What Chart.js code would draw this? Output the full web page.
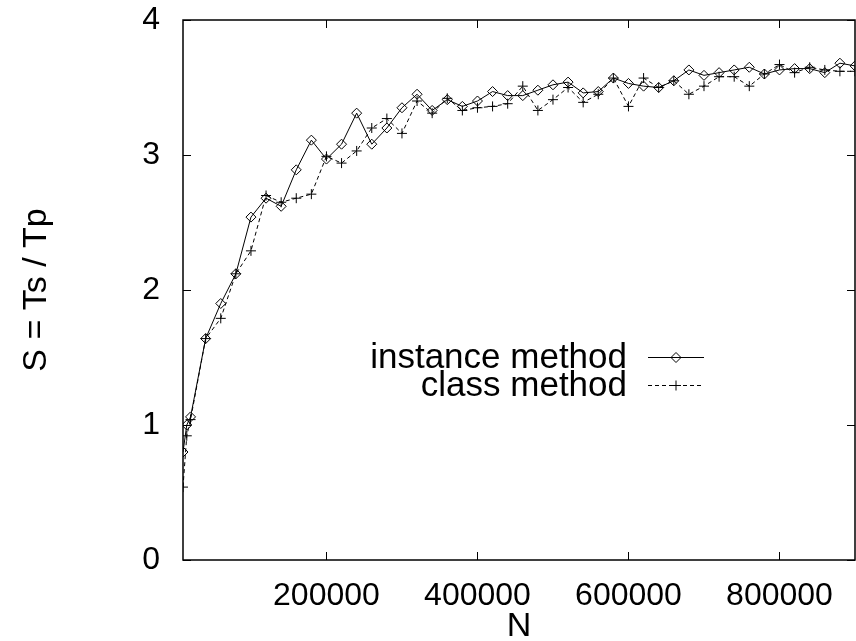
<!DOCTYPE html>
<html>
<head>
<meta charset="utf-8">
<script src="https://cdn.jsdelivr.net/npm/chart.js@4"></script>
<style>
  html, body { margin: 0; padding: 0; background: #fff; }
  #wrap { width: 856px; height: 641px; }
</style>
</head>
<body>
<div id="wrap"><canvas id="speedup-chart" width="856" height="641"></canvas></div>
<script>
  // problem sizes N (x axis)
  const sizes = [
    10000, 15000, 20000, 40000, 60000, 80000, 100000, 120000, 140000, 160000,
    180000, 200000, 220000, 240000, 260000, 280000, 300000, 320000, 340000, 360000,
    380000, 400000, 420000, 440000, 460000, 480000, 500000, 520000, 540000, 560000,
    580000, 600000, 620000, 640000, 660000, 680000, 700000, 720000, 740000, 760000,
    780000, 800000, 820000, 840000, 860000, 880000, 900000
  ];

  // speedup S = Ts / Tp
  const instanceMethod = [
    0.80, 1.00, 1.06, 1.64, 1.90, 2.12, 2.54, 2.68, 2.62, 2.89,
    3.11, 2.97, 3.08, 3.31, 3.08, 3.20, 3.35, 3.45, 3.33, 3.41,
    3.36, 3.40, 3.47, 3.44, 3.44, 3.48, 3.52, 3.54, 3.46, 3.47,
    3.57, 3.53, 3.51, 3.50, 3.55, 3.63, 3.59, 3.61, 3.63, 3.65,
    3.60, 3.63, 3.64, 3.64, 3.61, 3.68, 3.66
  ];
  const classMethod = [
    0.54, 0.92, 1.04, 1.64, 1.79, 2.12, 2.29, 2.70, 2.65, 2.68,
    2.71, 2.99, 2.94, 3.03, 3.20, 3.27, 3.16, 3.40, 3.31, 3.42,
    3.33, 3.35, 3.36, 3.38, 3.51, 3.33, 3.41, 3.50, 3.39, 3.45,
    3.57, 3.36, 3.57, 3.50, 3.55, 3.45, 3.51, 3.58, 3.58, 3.51,
    3.60, 3.67, 3.61, 3.65, 3.63, 3.62, 3.62
  ];

  const xTickValues = [200000, 400000, 600000, 800000];
  const yTickValues = [0, 1, 2, 3, 4];

  const FONT = "'Liberation Sans', Arial, sans-serif";
  const TICK_SIZE = 32;
  const LABEL_SIZE = 34;
  const KEY_SIZE = 35;

  const toPoints = (xs, ys) => xs.map((x, i) => ({ x: x, y: ys[i] }));

  // gnuplot style frame: full box with inward ticks on all four sides, plus key
  const framePlugin = {
    id: "frame",
    afterDraw(chart) {
      const ctx = chart.ctx;
      const a = chart.chartArea;
      const xs = chart.scales.x;
      const ys = chart.scales.y;
      const tick = 8;

      ctx.save();
      ctx.strokeStyle = "#000";
      ctx.lineWidth = 1.5;
      ctx.strokeRect(a.left, a.top, a.right - a.left, a.bottom - a.top);

      ctx.lineWidth = 1;
      ctx.beginPath();
      xTickValues.forEach((v) => {
        const px = Math.round(xs.getPixelForValue(v)) + 0.5;
        ctx.moveTo(px, a.bottom); ctx.lineTo(px, a.bottom - tick);
        ctx.moveTo(px, a.top); ctx.lineTo(px, a.top + tick);
      });
      yTickValues.forEach((v) => {
        const py = Math.round(ys.getPixelForValue(v)) + 0.5;
        ctx.moveTo(a.left, py); ctx.lineTo(a.left + tick, py);
        ctx.moveTo(a.right, py); ctx.lineTo(a.right - tick, py);
      });
      ctx.stroke();

      // key: label on the left, sample on the right
      const textRight = 627;
      const lineL = 648;
      const lineR = 704;
      const rows = [357, 385];
      ctx.font = KEY_SIZE + "px " + FONT;
      ctx.fillStyle = "#000";
      ctx.textAlign = "right";
      ctx.textBaseline = "middle";
      chart.data.datasets.forEach((ds, i) => {
        const yy = rows[i] + 0.5;
        ctx.fillText(ds.label, textRight, rows[i] + 1);
        ctx.save();
        ctx.lineWidth = 1;
        ctx.setLineDash(ds.borderDash || []);
        ctx.beginPath();
        ctx.moveTo(lineL, yy);
        ctx.lineTo(lineR, yy);
        ctx.stroke();
        ctx.restore();
        ctx.save();
        ctx.strokeStyle = "#000";
        ctx.fillStyle = "rgba(0,0,0,0)";
        ctx.lineWidth = 1;
        Chart.helpers.drawPoint(ctx, {
          pointStyle: ds.pointStyle,
          radius: ds.pointRadius,
          borderWidth: 1,
          rotation: 0
        }, (lineL + lineR) / 2, yy);
        ctx.restore();
      });
      ctx.restore();
    }
  };

  const createChart = (ctx) => {
    return new Chart(ctx, {
      type: "line",
      data: {
        datasets: [
          {
            label: "instance method",
            data: toPoints(sizes, instanceMethod),
            borderColor: "#000",
            borderWidth: 1,
            pointStyle: "rectRot",
            pointRadius: 5,
            pointBorderWidth: 1,
            pointBorderColor: "#000",
            pointBackgroundColor: "rgba(0,0,0,0)",
            tension: 0,
          },
          {
            label: "class method",
            data: toPoints(sizes, classMethod),
            borderColor: "#000",
            borderWidth: 1,
            borderDash: [4, 3],
            pointStyle: "cross",
            pointRadius: 5,
            pointBorderWidth: 1,
            pointBorderColor: "#000",
            tension: 0,
          },
        ],
      },
      options: {
        responsive: false,
        animation: false,
        events: [],
        layout: { autoPadding: false, padding: { top: 20, right: 1, left: 0, bottom: 0 } },
        plugins: {
          legend: { display: false },
          tooltip: { enabled: false },
        },
        scales: {
          x: {
            type: "linear",
            min: 10000,
            max: 900000,
            afterBuildTicks: (scale) => {
              scale.ticks = xTickValues.map((v) => ({ value: v }));
            },
            afterFit: (scale) => {
              scale.height = 81;
              scale.paddingLeft = 0;
              scale.paddingRight = 0;
            },
            grid: { display: false, drawTicks: false },
            border: { display: false },
            ticks: {
              color: "#000",
              padding: 17,
              maxRotation: 0,
              autoSkip: false,
              font: { family: FONT, size: TICK_SIZE },
              callback: (v) => String(v),
            },
            title: {
              display: true,
              text: "N",
              color: "#000",
              padding: { top: 0, bottom: -3 },
              font: { family: FONT, size: LABEL_SIZE, lineHeight: 1 },
            },
          },
          y: {
            min: 0,
            max: 4,
            afterBuildTicks: (scale) => {
              scale.ticks = yTickValues.map((v) => ({ value: v }));
            },
            afterFit: (scale) => {
              scale.width = 183;
              scale.paddingTop = 0;
              scale.paddingBottom = 0;
            },
            grid: { display: false, drawTicks: false },
            border: { display: false },
            ticks: {
              color: "#000",
              padding: 23,
              font: { family: FONT, size: TICK_SIZE },
            },
            title: {
              display: true,
              text: "S = Ts / Tp",
              color: "#000",
              padding: { top: 20, bottom: 0 },
              font: { family: FONT, size: LABEL_SIZE, lineHeight: 1 },
            },
          },
        },
      },
      plugins: [framePlugin],
    });
  };

  const initChart = () => {
    const ctx = document.getElementById("speedup-chart").getContext("2d");
    createChart(ctx);
  };

  document.addEventListener("DOMContentLoaded", initChart);
</script>
</body>
</html>
